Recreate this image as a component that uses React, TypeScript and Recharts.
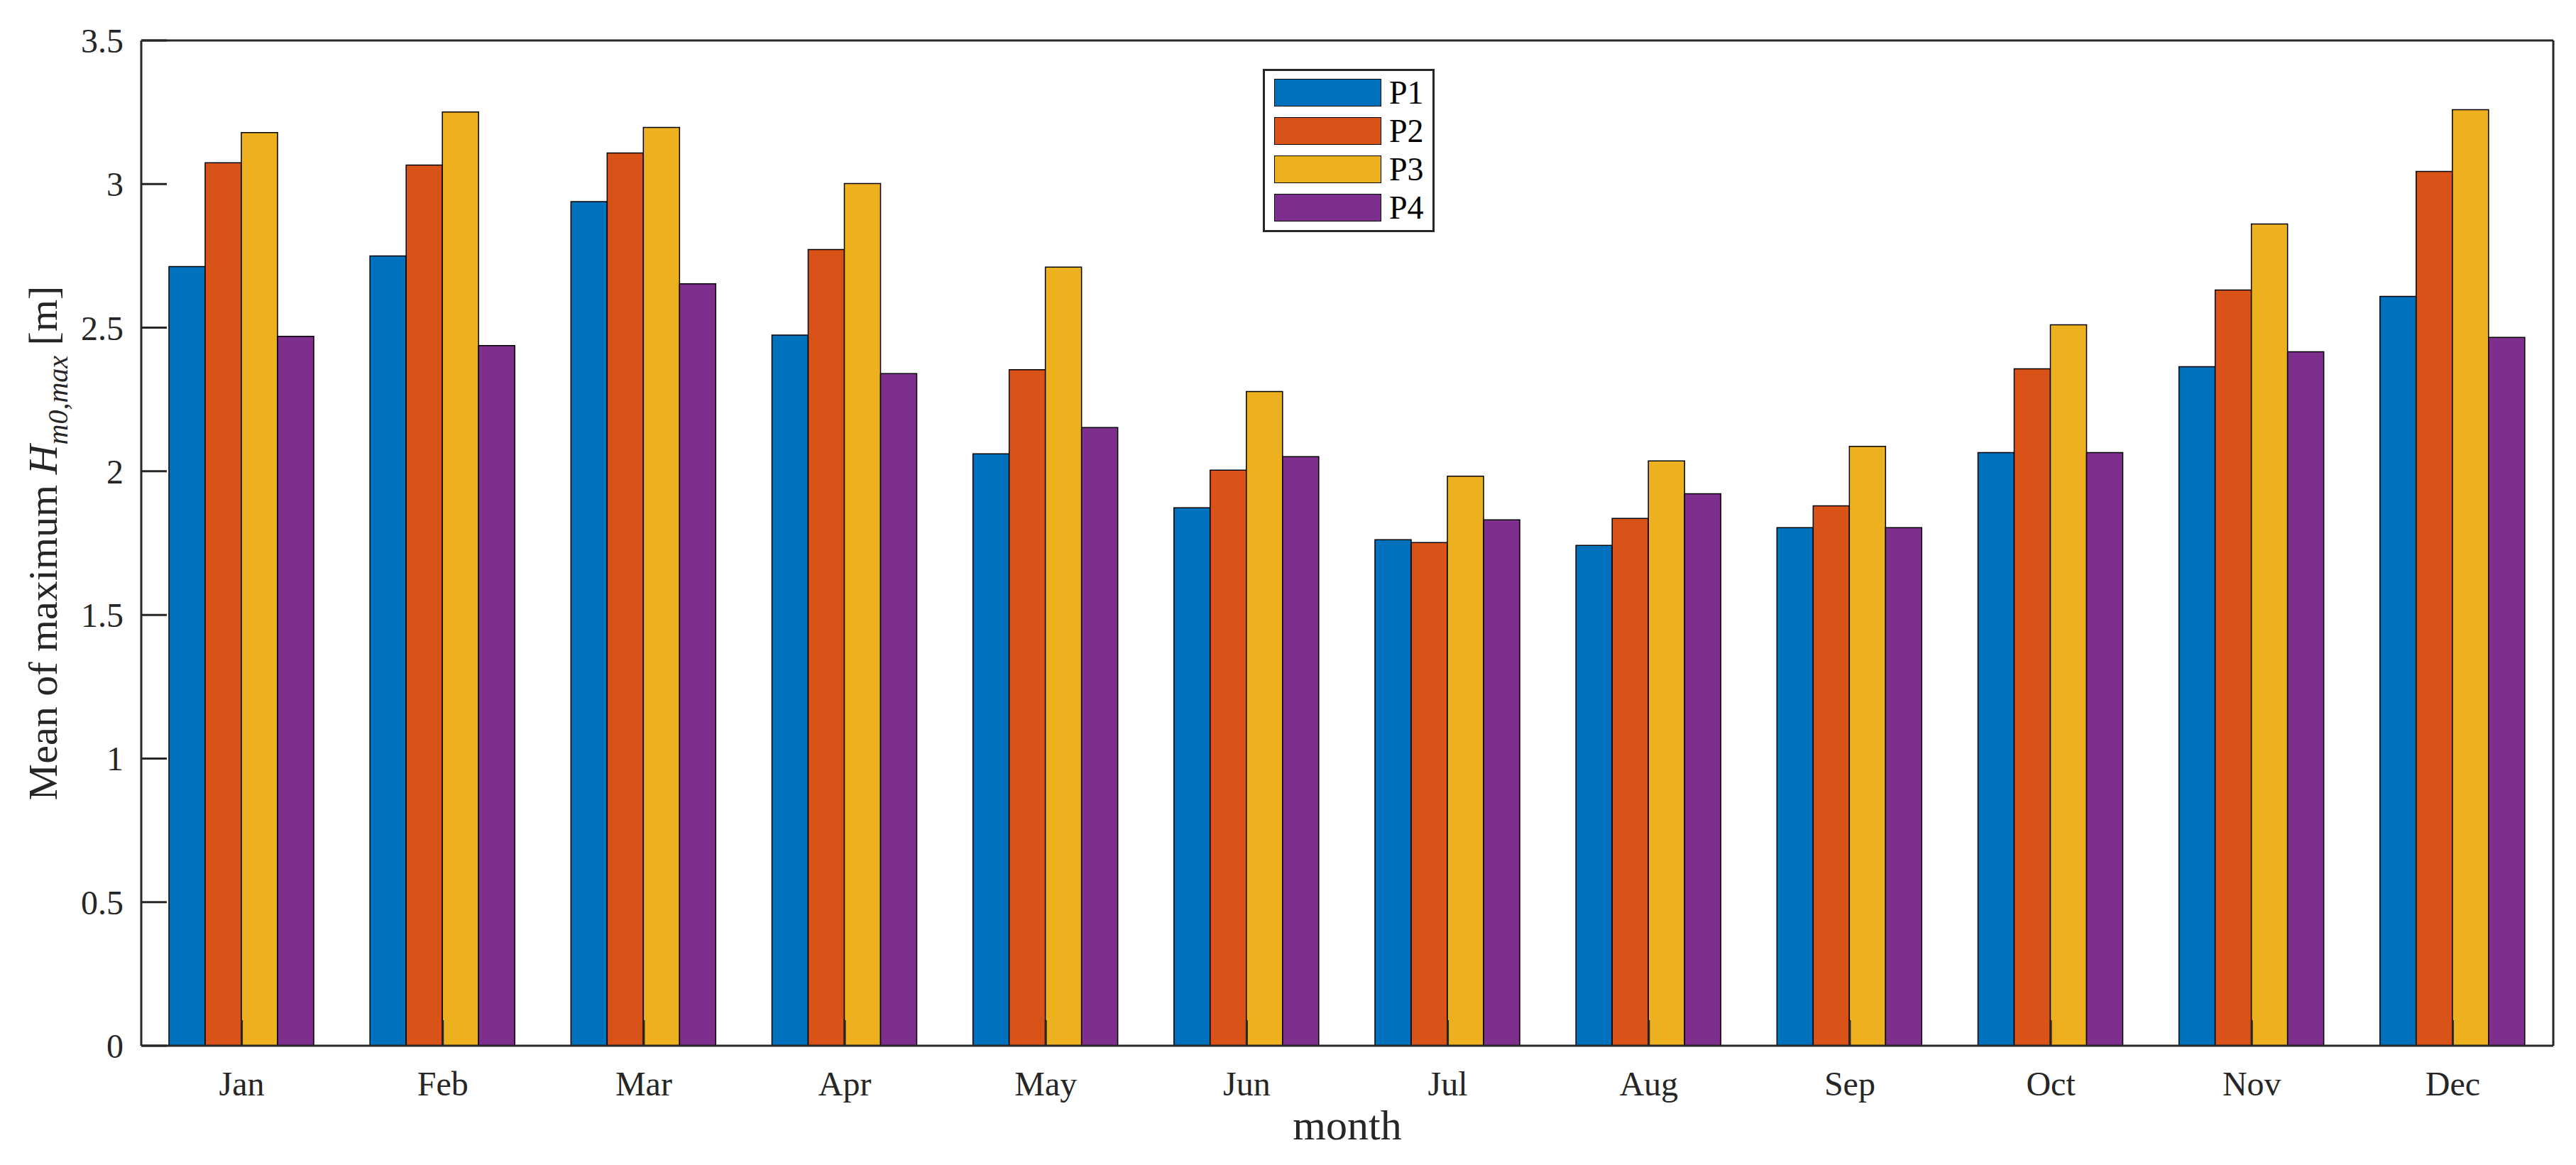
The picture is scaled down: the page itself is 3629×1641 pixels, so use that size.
import React from 'react';
import { BarChart, Bar, XAxis, YAxis, Legend } from 'recharts';

const months = ['Jan', 'Feb', 'Mar', 'Apr', 'May', 'Jun', 'Jul', 'Aug', 'Sep', 'Oct', 'Nov', 'Dec'];
const p1 = [2.713, 2.750, 2.939, 2.474, 2.061, 1.873, 1.762, 1.742, 1.804, 2.065, 2.364, 2.609];
const p2 = [3.074, 3.066, 3.108, 2.772, 2.354, 2.004, 1.752, 1.836, 1.880, 2.357, 2.631, 3.044];
const p3 = [3.179, 3.251, 3.197, 3.002, 2.711, 2.278, 1.983, 2.036, 2.087, 2.510, 2.861, 3.259];
const p4 = [2.470, 2.438, 2.653, 2.340, 2.152, 2.051, 1.831, 1.922, 1.804, 2.065, 2.416, 2.466];
const yTicks = [0, 0.5, 1, 1.5, 2, 2.5, 3, 3.5];
const seriesNames = ['P1', 'P2', 'P3', 'P4'];
const seriesColors = ['#0072BD', '#D95319', '#EDB120', '#7E2F8E'];

const data = months.map((m, i) => ({ month: m, P1: p1[i], P2: p2[i], P3: p3[i], P4: p4[i] }));

const FONT = '"Liberation Serif", "Times New Roman", serif';
const AX = '#262626';

const YLabel = (props: any) => {
  const vb = props.viewBox || {};
  const cx = vb.x + 72;
  const cy = vb.y + vb.height / 2;
  return (
    <text x={cx} y={cy} transform={`rotate(-90 ${cx} ${cy})`} textAnchor="middle" fontFamily={FONT} fontSize={58} fill={AX}>
      {'Mean of maximum '}
      <tspan fontStyle="italic">H</tspan>
      <tspan fontStyle="italic" fontSize={40} dy={15}>m0,max</tspan>
      <tspan dy={-15}>{' [m]'}</tspan>
    </text>
  );
};

const XLabel = (props: any) => {
  const vb = props.viewBox || {};
  const cx = vb.x + vb.width / 2;
  const cy = vb.y + 132;
  return (
    <text x={cx} y={cy} textAnchor="middle" fontFamily={FONT} fontSize={60} fill={AX}>
      month
    </text>
  );
};

const LegendBox = (props: any) => {
  const payload = props.payload || [];
  return (
    <div
      style={{
        boxSizing: 'border-box',
        width: 242,
        border: `3px solid ${AX}`,
        background: '#fff',
        padding: '11px 0 12px 13px',
      }}
    >
      {payload.map((e: any, i: number) => (
        <div key={e.value} style={{ display: 'flex', alignItems: 'flex-start', height: 39, marginTop: i ? 15 : 0 }}>
          <div
            style={{
              width: 151,
              height: 39,
              boxSizing: 'border-box',
              background: e.color,
              border: '1.5px solid #000',
            }}
          />
          <span style={{ marginLeft: 11, fontFamily: FONT, fontSize: 46, color: '#000', lineHeight: '39px', whiteSpace: 'nowrap' }}>
            {e.value}
          </span>
        </div>
      ))}
    </div>
  );
};

export default function App() {
  const axisLine = { stroke: AX, strokeWidth: 3 };
  const tickLine = { stroke: AX, strokeWidth: 3 };
  const tickStyle = { fontFamily: FONT, fontSize: 48, fill: AX };
  return (
    <div style={{ width: 3613, height: 1625, background: '#fff' }}>
      <BarChart
        width={3613}
        height={1625}
        data={data}
        margin={{ top: 29, right: 4, bottom: 8, left: 0 }}
        barCategoryGap={39}
        barGap={0}
      >
        {seriesNames.map((n, i) => (
          <Bar
            key={n}
            dataKey={n}
            name={n}
            fill={seriesColors[i]}
            stroke="#000"
            strokeWidth={1.5}
            isAnimationActive={false}
            xAxisId="bottom"
            yAxisId="left"
          />
        ))}
        <XAxis
          xAxisId="bottom"
          dataKey="month"
          interval={0}
          height={152}
          tickSize={-36}
          tickMargin={72}
          axisLine={axisLine}
          tickLine={tickLine}
          tick={tickStyle}
          label={<XLabel />}
        />
        <XAxis
          xAxisId="top"
          orientation="top"
          dataKey="month"
          interval={0}
          height={20}
          tickSize={-36}
          tick={false}
          axisLine={axisLine}
          tickLine={tickLine}
        />
        <YAxis
          yAxisId="left"
          type="number"
          domain={[0, 3.5]}
          ticks={yTicks}
          width={191}
          tickSize={-36}
          tickMargin={61}
          axisLine={axisLine}
          tickLine={tickLine}
          tick={tickStyle}
          label={<YLabel />}
        />
        <YAxis
          yAxisId="right"
          orientation="right"
          type="number"
          domain={[0, 3.5]}
          ticks={yTicks}
          width={20}
          tickSize={-36}
          tick={false}
          axisLine={axisLine}
          tickLine={tickLine}
        />
        <Legend
          layout="vertical"
          align="center"
          verticalAlign="middle"
          content={<LegendBox />}
          wrapperStyle={{ left: 1771, top: 89, width: 242, height: 230 }}
        />
      </BarChart>
    </div>
  );
}
